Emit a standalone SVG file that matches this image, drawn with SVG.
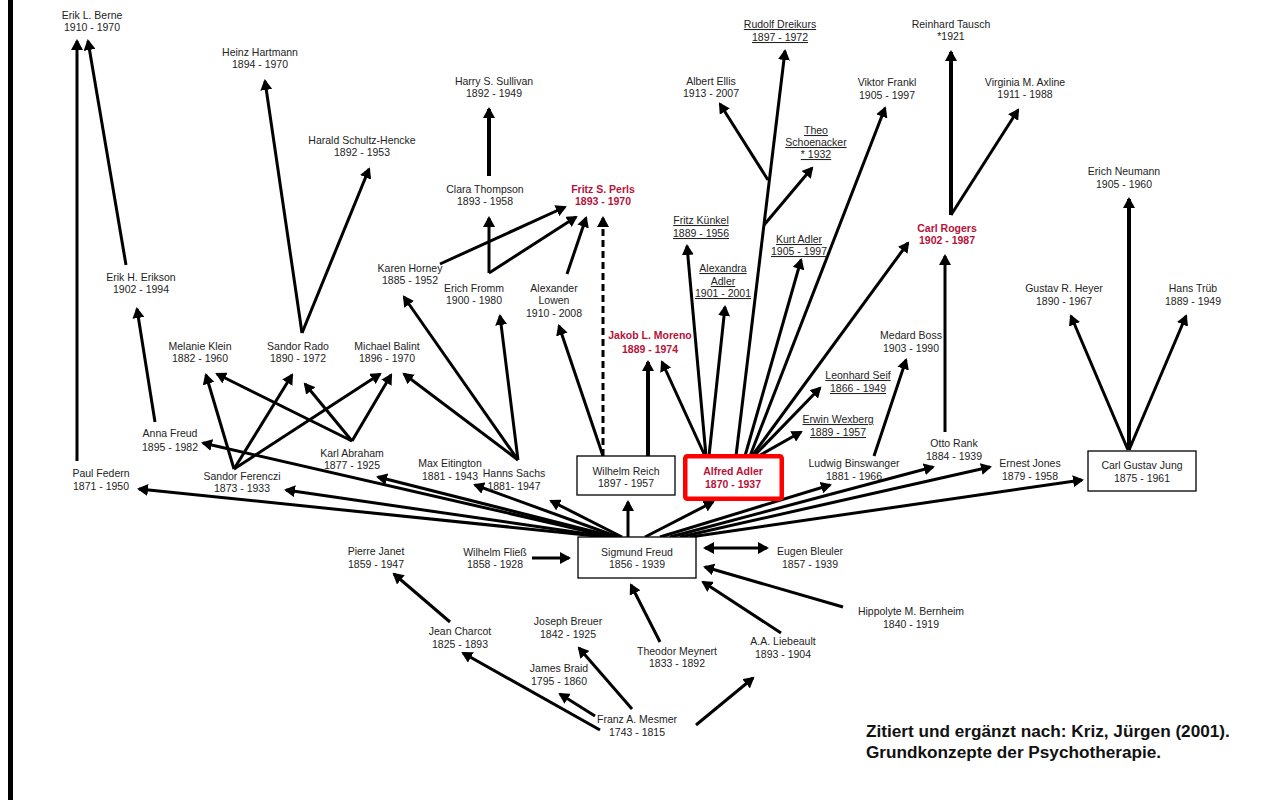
<svg xmlns="http://www.w3.org/2000/svg" width="1261" height="800" viewBox="0 0 1261 800">
<style>
text{font-family:"Liberation Sans",Arial,sans-serif;font-size:10.5px;fill:#232323;text-anchor:middle}
.r{fill:#b5123a;font-weight:bold}
.u{text-decoration:underline}
.cite{font-size:17.2px;font-weight:bold;fill:#111;text-anchor:start}
.box{fill:#fff;stroke:#000;stroke-width:1.3}
.ab{fill:#fff;stroke:#ff0000;stroke-width:4.5}
#conn line{stroke:#000;stroke-width:3;fill:none;marker-end:url(#ah)}
#conn .t{stroke-width:4}
#conn .d{stroke-dasharray:7,4}
#conn .bi{marker-start:url(#ahs)}
</style>
<defs>
<marker id="ah" markerUnits="userSpaceOnUse" markerWidth="12" markerHeight="12" refX="9" refY="6" orient="auto"><path d="M0,0 L11,6 L0,12 z" fill="#000"/></marker>
<marker id="ahs" markerUnits="userSpaceOnUse" markerWidth="12" markerHeight="12" refX="9" refY="6" orient="auto-start-reverse"><path d="M0,0 L11,6 L0,12 z" fill="#000"/></marker>
</defs>
<rect width="1261" height="800" fill="#fff"/>
<rect x="8" y="0" width="5" height="800" fill="#000"/>

<g id="conn">
<!-- Freud fan left -->
<line x1="606" y1="537" x2="139" y2="489"/>
<line x1="612" y1="537" x2="203" y2="443"/>
<line x1="609" y1="537" x2="286" y2="490"/>
<line x1="615" y1="537" x2="378" y2="477"/>
<line x1="618" y1="537" x2="475" y2="485"/>
<line x1="622" y1="537" x2="551" y2="501"/>
<line x1="628" y1="537" x2="628" y2="502"/>
<!-- Freud fan right -->
<line x1="645" y1="537" x2="713" y2="502"/>
<line x1="660" y1="537" x2="830" y2="485"/>
<line x1="670" y1="537" x2="933" y2="467"/>
<line x1="680" y1="537" x2="990" y2="467"/>
<line x1="690" y1="537" x2="1082" y2="480"/>
<!-- into Freud -->
<line x1="532" y1="558" x2="569" y2="558"/>
<line class="bi" x1="705" y1="548" x2="767" y2="548"/>
<line x1="843" y1="607" x2="705" y2="567"/>
<line x1="781" y1="633" x2="703" y2="582"/>
<line x1="660" y1="642" x2="631" y2="585"/>
<!-- lower -->
<line x1="450" y1="622" x2="394" y2="574"/>
<line x1="600" y1="730" x2="463" y2="653"/>
<line x1="595" y1="716" x2="560" y2="694"/>
<line x1="632" y1="709" x2="579" y2="648"/>
<line x1="696" y1="725" x2="753" y2="678"/>
<!-- left upper -->
<line x1="77" y1="461" x2="77" y2="41"/>
<line x1="126" y1="265" x2="88" y2="41"/>
<line x1="155" y1="422" x2="137" y2="309"/>
<line x1="302" y1="333" x2="265" y2="81"/>
<line x1="302" y1="333" x2="369" y2="169"/>
<!-- Ferenczi -->
<line x1="234" y1="469" x2="206" y2="375"/>
<line x1="234" y1="469" x2="292" y2="375"/>
<line x1="234" y1="469" x2="380" y2="374"/>
<!-- Abraham -->
<line x1="352" y1="441" x2="217" y2="374"/>
<line x1="352" y1="441" x2="305" y2="384"/>
<line x1="352" y1="441" x2="391" y2="375"/>
<!-- Sachs -->
<line x1="518" y1="460" x2="404" y2="374"/>
<line x1="518" y1="460" x2="404" y2="297"/>
<line x1="518" y1="460" x2="500" y2="316"/>
<!-- Horney, Fromm, Thompson, Lowen -->
<line x1="440" y1="264" x2="565" y2="207"/>
<line x1="489" y1="273" x2="576" y2="217"/>
<line x1="489" y1="273" x2="489" y2="218"/>
<line class="t" x1="489" y1="176" x2="489" y2="109"/>
<line x1="567" y1="274" x2="586" y2="218"/>
<!-- Reich -->
<line x1="603" y1="456" x2="559" y2="326"/>
<line class="d" x1="603" y1="456" x2="603" y2="218"/>
<line class="t" x1="648" y1="456" x2="648" y2="362"/>
<!-- Adler fan -->
<line x1="705" y1="456" x2="662" y2="362"/>
<line x1="706" y1="456" x2="687" y2="246"/>
<line x1="709" y1="456" x2="725" y2="307"/>
<line x1="736" y1="456" x2="785" y2="51"/>
<line x1="768" y1="180" x2="720" y2="104"/>
<line x1="764" y1="225" x2="812" y2="168"/>
<line x1="745" y1="456" x2="801" y2="260"/>
<line x1="750" y1="456" x2="885" y2="108"/>
<line x1="752" y1="456" x2="908" y2="243"/>
<line x1="753" y1="457" x2="820" y2="388"/>
<line x1="755" y1="458" x2="801" y2="432"/>
<!-- right -->
<line x1="874" y1="456" x2="906" y2="360"/>
<line x1="945" y1="432" x2="945" y2="256"/>
<line class="t" x1="951" y1="215" x2="951" y2="52"/>
<line x1="951" y1="215" x2="1018" y2="110"/>
<line class="t" x1="1129" y1="450" x2="1129" y2="199"/>
<line x1="1128" y1="450" x2="1071" y2="316"/>
<line x1="1129" y1="450" x2="1186" y2="316"/>
</g>

<g id="n-berne"><text x="92" y="18.5">Erik L. Berne</text><text x="92" y="31">1910 - 1970</text></g>
<g id="n-hartmann"><text x="260" y="56">Heinz Hartmann</text><text x="260" y="68">1894 - 1970</text></g>
<g id="n-schultz"><text x="362" y="144">Harald Schultz-Hencke</text><text x="362" y="156">1892 - 1953</text></g>
<g id="n-sullivan"><text x="494" y="85">Harry S. Sullivan</text><text x="494" y="97">1892 - 1949</text></g>
<g id="n-thompson"><text x="485" y="193">Clara Thompson</text><text x="485" y="205">1893 - 1958</text></g>
<g id="n-perls"><text class="r" x="603" y="193">Fritz S. Perls</text><text class="r" x="603" y="205">1893 - 1970</text></g>
<g id="n-ellis"><text x="711" y="85">Albert Ellis</text><text x="711" y="97">1913 - 2007</text></g>
<g id="n-dreikurs"><text class="u" x="780" y="28">Rudolf Dreikurs</text><text class="u" x="780" y="41">1897 - 1972</text></g>
<g id="n-schoenacker"><text class="u" x="816" y="134">Theo</text><text class="u" x="816" y="146">Schoenacker</text><text class="u" x="816" y="158">* 1932</text></g>
<g id="n-kuenkel"><text class="u" x="701" y="224">Fritz Künkel</text><text class="u" x="701" y="237">1889 - 1956</text></g>
<g id="n-kurtadler"><text class="u" x="799" y="243">Kurt Adler</text><text class="u" x="799" y="255">1905 - 1997</text></g>
<g id="n-alexandra"><text class="u" x="723" y="272">Alexandra</text><text class="u" x="723" y="285">Adler</text><text class="u" x="723" y="297">1901 - 2001</text></g>
<g id="n-frankl"><text x="887" y="86">Viktor Frankl</text><text x="887" y="99">1905 - 1997</text></g>
<g id="n-tausch"><text x="951" y="28">Reinhard Tausch</text><text x="951" y="40">*1921</text></g>
<g id="n-axline"><text x="1025" y="86">Virginia M. Axline</text><text x="1025" y="98">1911 - 1988</text></g>
<g id="n-rogers"><text class="r" x="947" y="232">Carl Rogers</text><text class="r" x="947" y="244">1902 - 1987</text></g>
<g id="n-neumann"><text x="1124" y="175">Erich Neumann</text><text x="1124" y="188">1905 - 1960</text></g>
<g id="n-heyer"><text x="1064" y="292">Gustav R. Heyer</text><text x="1064" y="305">1890 - 1967</text></g>
<g id="n-trueb"><text x="1193" y="292">Hans Trüb</text><text x="1193" y="305">1889 - 1949</text></g>
<g id="n-jung"><rect class="box" x="1088" y="451" width="108" height="40"/><text x="1142" y="469">Carl Gustav Jung</text><text x="1142" y="482">1875 - 1961</text></g>
<g id="n-boss"><text x="911" y="339">Medard Boss</text><text x="911" y="352">1903 - 1990</text></g>
<g id="n-rank"><text x="954" y="447">Otto Rank</text><text x="954" y="460">1884 - 1939</text></g>
<g id="n-jones"><text x="1030" y="467">Ernest Jones</text><text x="1030" y="480">1879 - 1958</text></g>
<g id="n-binswanger"><text x="854" y="467">Ludwig Binswanger</text><text x="854" y="480">1881 - 1966</text></g>
<g id="n-seif"><text class="u" x="858" y="379">Leonhard Seif</text><text class="u" x="858" y="392">1866 - 1949</text></g>
<g id="n-wexberg"><text class="u" x="838" y="423">Erwin Wexberg</text><text class="u" x="838" y="436">1889 - 1957</text></g>
<g id="n-adler"><rect class="ab" x="685.25" y="456.25" width="96.5" height="42.5" rx="2"/><text class="r" x="733" y="475">Alfred Adler</text><text class="r" x="733" y="488">1870 - 1937</text></g>
<g id="n-moreno"><text class="r" x="650" y="339">Jakob L. Moreno</text><text class="r" x="650" y="353">1889 - 1974</text></g>
<g id="n-reich"><rect class="box" x="577" y="456" width="98" height="39"/><text x="626" y="475">Wilhelm Reich</text><text x="626" y="487">1897 - 1957</text></g>
<g id="n-lowen"><text x="554" y="292">Alexander</text><text x="554" y="304">Lowen</text><text x="554" y="317">1910 - 2008</text></g>
<g id="n-fromm"><text x="474" y="292">Erich Fromm</text><text x="474" y="304">1900 - 1980</text></g>
<g id="n-horney"><text x="410" y="272">Karen Horney</text><text x="410" y="284">1885 - 1952</text></g>
<g id="n-erikson"><text x="141" y="281">Erik H. Erikson</text><text x="141" y="293">1902 - 1994</text></g>
<g id="n-klein"><text x="200" y="350">Melanie Klein</text><text x="200" y="362">1882 - 1960</text></g>
<g id="n-rado"><text x="298" y="350">Sandor Rado</text><text x="298" y="362">1890 - 1972</text></g>
<g id="n-balint"><text x="387" y="350">Michael Balint</text><text x="387" y="362">1896 - 1970</text></g>
<g id="n-annafreud"><text x="170" y="437">Anna Freud</text><text x="170" y="451">1895 - 1982</text></g>
<g id="n-abraham"><text x="352" y="457">Karl Abraham</text><text x="352" y="469">1877 - 1925</text></g>
<g id="n-federn"><text x="101" y="477">Paul Federn</text><text x="101" y="490">1871 - 1950</text></g>
<g id="n-ferenczi"><text x="242" y="480">Sandor Ferenczi</text><text x="242" y="492">1873 - 1933</text></g>
<g id="n-eitington"><text x="450" y="467">Max Eitington</text><text x="450" y="480">1881 - 1943</text></g>
<g id="n-sachs"><text x="514" y="477">Hanns Sachs</text><text x="514" y="490">1881- 1947</text></g>
<g id="n-freud"><rect class="box" x="578" y="537" width="118" height="41"/><text x="637" y="556">Sigmund Freud</text><text x="637" y="568">1856 - 1939</text></g>
<g id="n-janet"><text x="376" y="555">Pierre Janet</text><text x="376" y="568">1859 - 1947</text></g>
<g id="n-fliess"><text x="495" y="556">Wilhelm Fließ</text><text x="495" y="568">1858 - 1928</text></g>
<g id="n-bleuler"><text x="810" y="555">Eugen Bleuler</text><text x="810" y="568">1857 - 1939</text></g>
<g id="n-bernheim"><text x="911" y="615">Hippolyte M. Bernheim</text><text x="911" y="628">1840 - 1919</text></g>
<g id="n-charcot"><text x="460" y="635">Jean Charcot</text><text x="460" y="648">1825 - 1893</text></g>
<g id="n-breuer"><text x="568" y="625">Joseph Breuer</text><text x="568" y="638">1842 - 1925</text></g>
<g id="n-meynert"><text x="677" y="655">Theodor Meynert</text><text x="677" y="667">1833 - 1892</text></g>
<g id="n-liebeault"><text x="783" y="645">A.A. Liebeault</text><text x="783" y="658">1893 - 1904</text></g>
<g id="n-braid"><text x="559" y="672">James Braid</text><text x="559" y="685">1795 - 1860</text></g>
<g id="n-mesmer"><text x="637" y="723">Franz A. Mesmer</text><text x="637" y="736">1743 - 1815</text></g>
<g id="citation"><text class="cite" x="866" y="737">Zitiert und ergänzt nach: Kriz, Jürgen (2001).</text><text class="cite" x="866" y="758">Grundkonzepte der Psychotherapie.</text></g>
</svg>
